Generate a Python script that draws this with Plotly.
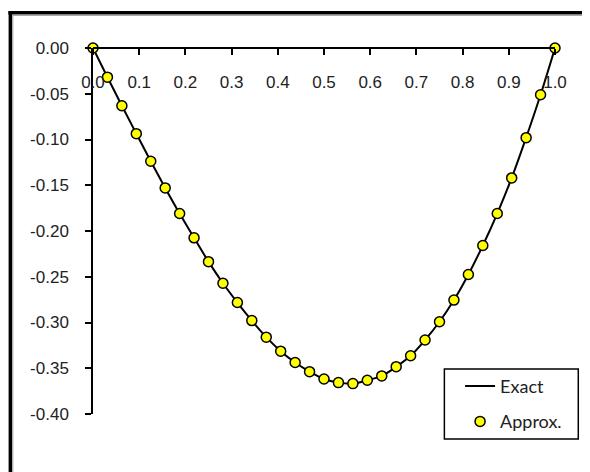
import plotly.graph_objects as go

# x positions (spacing 1/32)
x_vals = [i / 32 for i in range(33)]

approx_y = [0.0, -0.0319, -0.0631, -0.0936, -0.1238, -0.1529, -0.1809, -0.2075,
            -0.2335, -0.2571, -0.2782, -0.2979, -0.3160, -0.3313, -0.3437, -0.3537,
            -0.3617, -0.3657, -0.3668, -0.3631, -0.3584, -0.3483, -0.3363, -0.3191,
            -0.2992, -0.2755, -0.2475, -0.2158, -0.1809, -0.1420, -0.0980, -0.0511, 0.0]

exact_y = list(approx_y)

x_ticks = [0.0, 0.1, 0.2, 0.3, 0.4, 0.5, 0.6, 0.7, 0.8, 0.9, 1.0]
x_tick_text = ["0.0", "0.1", "0.2", "0.3", "0.4", "0.5", "0.6", "0.7", "0.8", "0.9", "1.0"]
y_ticks = [0.0, -0.05, -0.10, -0.15, -0.20, -0.25, -0.30, -0.35, -0.40]
y_tick_text = ["0.00", "-0.05", "-0.10", "-0.15", "-0.20", "-0.25", "-0.30", "-0.35", "-0.40"]

OFF = 8  # page body margin
W, H = 590, 472
L, T = 84.7, 39.7
pw, ph = 462.3, 366.6
R, B = W - L - pw, H - T - ph

def px2x(px):  # window px -> paper x
    return (px - OFF - L) / pw

def py2y(py):  # window px -> paper y
    return (H - B - (py - OFF)) / ph

fig = go.Figure()
fig.add_trace(go.Scatter(
    x=x_vals, y=exact_y, mode="lines", name="Exact",
    line=dict(color="black", width=2, shape="spline"),
    legendgroup="a", cliponaxis=False,
))
fig.add_trace(go.Scatter(
    x=x_vals, y=approx_y, mode="markers", name="Approx.",
    marker=dict(color="#FFFF00", size=10, line=dict(color="black", width=1.5)),
    legendgroup="b", cliponaxis=False,
))

fig.update_layout(
    width=W, height=H,
    margin=dict(l=L, r=R, t=T, b=B),
    paper_bgcolor="white", plot_bgcolor="white",
    font=dict(family="Liberation Sans, Arial, sans-serif", size=17, color="#222222"),
    showlegend=True,
    legend=dict(
        x=px2x(446), y=py2y(368), xanchor="left", yanchor="top",
        borderwidth=0, bgcolor="rgba(0,0,0,0)", indentation=14,
        font=dict(family="Lato, sans-serif", size=18, color="#222222"),
        traceorder="grouped", tracegroupgap=9,
    ),
    xaxis=dict(
        range=[0, 1], side="bottom", anchor="free", position=1,
        tickvals=x_ticks, ticktext=x_tick_text,
        ticks="outside", ticklen=6, tickwidth=1.5, tickcolor="black",
        showline=True, linecolor="black", linewidth=2,
        showgrid=False, zeroline=False, ticklabelstandoff=13,
    ),
    yaxis=dict(
        range=[-0.40, 0.0], tickvals=y_ticks, ticktext=y_tick_text,
        ticks="outside", ticklen=6, tickwidth=1.5, tickcolor="black",
        showline=True, linecolor="black", linewidth=1.5,
        showgrid=False, zeroline=False, ticklabelstandoff=13,
    ),
    shapes=[
        dict(type="rect", xref="paper", yref="paper",
             x0=px2x(444.3), x1=px2x(578.3), y0=py2y(439.3), y1=py2y(369.3),
             line=dict(color="black", width=1.5), fillcolor="white", layer="below"),
        dict(type="rect", xref="paper", yref="paper",
             x0=px2x(580), x1=px2x(610), y0=py2y(490), y1=py2y(16),
             line=dict(width=0), fillcolor="white", layer="above"),
        dict(type="line", xref="paper", yref="paper",
             x0=px2x(8), x1=px2x(600), y0=py2y(12.5), y1=py2y(12.5),
             line=dict(color="black", width=3.5), layer="above"),
        dict(type="line", xref="paper", yref="paper",
             x0=px2x(12.5), x1=px2x(600), y0=py2y(15), y1=py2y(15),
             line=dict(color="#999999", width=1), layer="above"),
        dict(type="line", xref="paper", yref="paper",
             x0=px2x(10), x1=px2x(10), y0=py2y(11), y1=py2y(480),
             line=dict(color="black", width=3.5), layer="above"),
        dict(type="line", xref="paper", yref="paper",
             x0=px2x(12.5), x1=px2x(12.5), y0=py2y(14.5), y1=py2y(480),
             line=dict(color="#999999", width=1), layer="above"),
    ],
)

fig.write_html("out.html")
